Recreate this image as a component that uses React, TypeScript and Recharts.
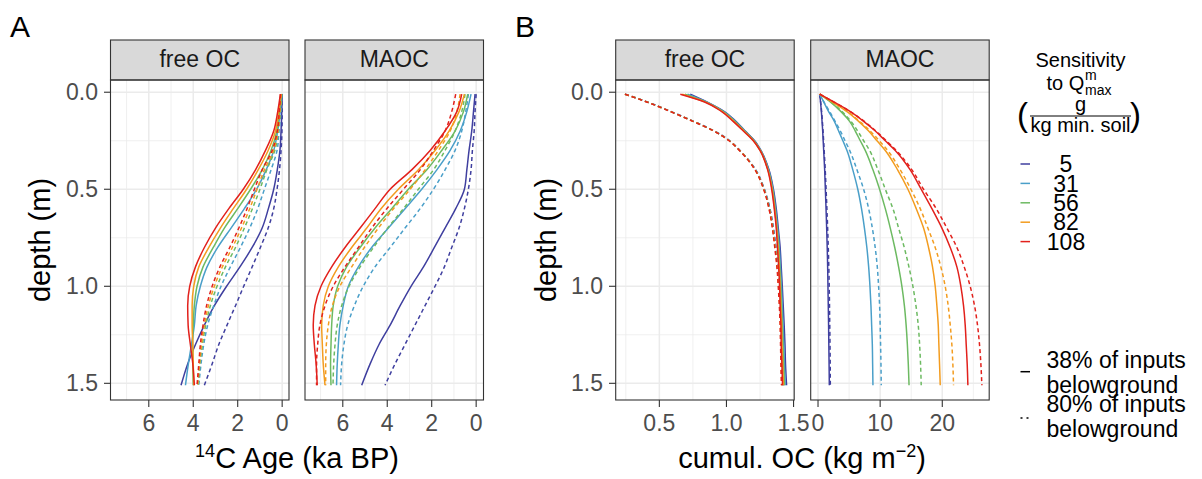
import { LineChart, Line, XAxis, YAxis, CartesianGrid } from 'recharts';

const FONT = '"Liberation Sans", Arial, Helvetica, sans-serif';

// legend groups (Qmax sensitivity, g / kg min. soil)
const sensitivity = ['5', '31', '56', '82', '108'];
const colors = ['#3F3F9F', '#4A9FC9', '#6DBA62', '#F39C1F', '#E2211C'];

const depthTicks = [0, 0.5, 1, 1.5];
const depthMinor = [0.25, 0.75, 1.25];
const depthDomain = [-0.063, 1.586];

// ---- A: 14C age (ka BP) ----
const depthA = [0.01, 0.1, 0.2, 0.3, 0.4, 0.5, 0.6, 0.7, 0.8, 0.9, 1.0, 1.1, 1.2, 1.3, 1.4, 1.51];

const ageFreeSolid = [
  [0, 0.02, 0.05, 0.1, 0.22, 0.38, 0.62, 0.9, 1.35, 1.9, 2.5, 3.05, 3.5, 3.9, 4.25, 4.55],
  [0.02, 0.09, 0.2, 0.38, 0.72, 1.15, 1.7, 2.3, 2.9, 3.38, 3.68, 3.87, 3.95, 4.08, 4.22, 4.35],
  [0.03, 0.12, 0.24, 0.5, 0.9, 1.42, 2.0, 2.6, 3.1, 3.56, 3.83, 3.95, 4.0, 4.03, 4.02, 4.0],
  [0.05, 0.15, 0.3, 0.63, 1.08, 1.6, 2.2, 2.78, 3.3, 3.75, 3.98, 4.05, 4.05, 4.02, 4.0, 3.98],
  [0.08, 0.2, 0.38, 0.75, 1.2, 1.75, 2.4, 3.0, 3.5, 3.9, 4.16, 4.25, 4.23, 4.13, 4.02, 3.95],
];
const ageFreeDashed = [
  [0, 0, 0.01, 0.05, 0.12, 0.23, 0.38, 0.63, 0.98, 1.35, 1.73, 2.1, 2.48, 2.85, 3.15, 3.5],
  [0.01, 0.05, 0.14, 0.23, 0.5, 0.8, 1.1, 1.46, 1.88, 2.33, 2.75, 3.08, 3.35, 3.53, 3.65, 3.75],
  [0.02, 0.08, 0.17, 0.33, 0.69, 1.0, 1.34, 1.7, 2.1, 2.55, 2.93, 3.23, 3.44, 3.59, 3.7, 3.78],
  [0.04, 0.1, 0.19, 0.39, 0.8, 1.13, 1.46, 1.83, 2.24, 2.69, 3.05, 3.32, 3.5, 3.63, 3.72, 3.8],
  [0.07, 0.13, 0.22, 0.45, 0.9, 1.25, 1.58, 1.95, 2.36, 2.8, 3.15, 3.4, 3.56, 3.68, 3.75, 3.83],
];
const ageMaocSolid = [
  [0.05, 0.12, 0.2, 0.32, 0.42, 0.53, 0.92, 1.4, 1.88, 2.37, 2.93, 3.42, 3.87, 4.37, 4.77, 5.15],
  [0.23, 0.42, 0.72, 1.17, 1.77, 2.45, 3.2, 3.95, 4.7, 5.3, 5.75, 5.98, 6.13, 6.2, 6.25, 6.28],
  [0.38, 0.57, 0.95, 1.55, 2.22, 3.05, 3.8, 4.55, 5.22, 5.83, 6.23, 6.43, 6.5, 6.53, 6.55, 6.53],
  [0.53, 0.77, 1.22, 1.85, 2.6, 3.5, 4.28, 4.92, 5.6, 6.2, 6.65, 6.88, 6.95, 6.92, 6.88, 6.8],
  [0.65, 0.87, 1.4, 2.07, 2.9, 3.87, 4.55, 5.22, 5.9, 6.5, 6.98, 7.25, 7.33, 7.28, 7.2, 7.15],
];
const ageMaocDashed = [
  [0, 0.05, 0.09, 0.17, 0.23, 0.35, 0.53, 0.77, 1.1, 1.43, 1.85, 2.3, 2.75, 3.2, 3.65, 4.1],
  [0.35, 0.47, 0.65, 0.95, 1.4, 1.92, 2.52, 3.2, 3.87, 4.55, 5.08, 5.48, 5.78, 5.95, 6.05, 6.1],
  [0.5, 0.65, 0.95, 1.4, 1.92, 2.6, 3.27, 3.98, 4.62, 5.22, 5.72, 6.05, 6.25, 6.35, 6.41, 6.44],
  [0.72, 0.87, 1.17, 1.7, 2.3, 2.97, 3.72, 4.4, 5.03, 5.6, 6.13, 6.47, 6.65, 6.74, 6.77, 6.77],
  [0.92, 1.1, 1.4, 1.92, 2.52, 3.27, 4.02, 4.7, 5.3, 5.9, 6.43, 6.8, 7.03, 7.13, 7.18, 7.18],
];

// ---- B: cumulative OC (kg m-2) ----
const depthB = [0.01, 0.05, 0.1, 0.15, 0.2, 0.25, 0.3, 0.4, 0.5, 0.6, 0.7, 0.8, 0.9, 1.0, 1.1, 1.2, 1.3, 1.4, 1.51];

const ocFreeSolid = [
  [0.73, 0.854, 0.985, 1.07, 1.14, 1.21, 1.257, 1.317, 1.35, 1.371, 1.386, 1.4, 1.408, 1.416, 1.423, 1.43, 1.436, 1.44, 1.448],
  [0.71, 0.85, 0.98, 1.065, 1.137, 1.207, 1.255, 1.314, 1.346, 1.366, 1.381, 1.394, 1.402, 1.41, 1.416, 1.422, 1.427, 1.432, 1.438],
  [0.69, 0.845, 0.975, 1.06, 1.134, 1.205, 1.253, 1.311, 1.343, 1.362, 1.377, 1.389, 1.397, 1.405, 1.41, 1.416, 1.42, 1.425, 1.432],
  [0.67, 0.84, 0.97, 1.055, 1.13, 1.202, 1.251, 1.309, 1.34, 1.359, 1.374, 1.385, 1.393, 1.4, 1.405, 1.411, 1.414, 1.419, 1.425],
  [0.656, 0.837, 0.965, 1.05, 1.126, 1.2, 1.25, 1.307, 1.337, 1.356, 1.371, 1.38, 1.389, 1.396, 1.4, 1.406, 1.408, 1.413, 1.418],
];
const ocFreeDashed = [
  [0.245, 0.41, 0.588, 0.755, 0.91, 1.024, 1.101, 1.218, 1.283, 1.324, 1.35, 1.369, 1.386, 1.397, 1.406, 1.413, 1.417, 1.421, 1.426],
  [0.244, 0.409, 0.587, 0.754, 0.909, 1.023, 1.1, 1.217, 1.281, 1.322, 1.348, 1.366, 1.383, 1.394, 1.402, 1.409, 1.412, 1.416, 1.42],
  [0.244, 0.408, 0.586, 0.752, 0.908, 1.022, 1.099, 1.215, 1.28, 1.32, 1.346, 1.364, 1.38, 1.391, 1.399, 1.405, 1.408, 1.411, 1.415],
  [0.243, 0.407, 0.585, 0.751, 0.907, 1.021, 1.098, 1.214, 1.278, 1.318, 1.344, 1.362, 1.378, 1.388, 1.396, 1.402, 1.405, 1.408, 1.412],
  [0.243, 0.406, 0.584, 0.75, 0.906, 1.02, 1.097, 1.213, 1.277, 1.317, 1.342, 1.36, 1.376, 1.386, 1.394, 1.4, 1.403, 1.406, 1.41],
];
const ocMaocSolid = [
  [0.27, 0.4, 0.54, 0.65, 0.75, 0.83, 0.91, 1.07, 1.18, 1.29, 1.39, 1.48, 1.55, 1.6, 1.65, 1.7, 1.74, 1.78, 1.82],
  [0.27, 0.91, 1.71, 2.63, 3.32, 4.0, 4.66, 5.6, 6.4, 7.0, 7.47, 7.86, 8.15, 8.36, 8.52, 8.63, 8.74, 8.79, 8.84],
  [0.27, 1.98, 3.7, 5.09, 6.0, 6.8, 7.6, 8.84, 9.91, 10.83, 11.63, 12.35, 12.97, 13.5, 13.9, 14.18, 14.38, 14.53, 14.65],
  [0.27, 2.25, 4.66, 6.54, 8.15, 9.49, 10.83, 12.81, 14.47, 15.81, 16.99, 17.79, 18.43, 18.86, 19.13, 19.35, 19.45, 19.56, 19.67],
  [0.27, 2.52, 5.2, 7.34, 9.22, 10.83, 12.43, 14.84, 16.61, 18.33, 19.94, 21.28, 22.35, 22.99, 23.42, 23.69, 23.85, 24.01, 24.12],
];
const ocMaocDashed = [
  [0.27, 0.42, 0.58, 0.7, 0.81, 0.9, 0.99, 1.16, 1.3, 1.43, 1.55, 1.65, 1.74, 1.8, 1.85, 1.89, 1.93, 1.96, 1.98],
  [0.27, 0.95, 1.88, 2.75, 3.6, 4.35, 5.1, 6.27, 7.34, 8.15, 8.74, 9.2, 9.54, 9.75, 9.91, 10.0, 10.07, 10.13, 10.18],
  [0.27, 2.09, 3.86, 5.3, 6.38, 7.34, 8.3, 9.65, 10.83, 12.06, 12.97, 13.88, 14.63, 15.27, 15.76, 16.13, 16.35, 16.5, 16.61],
  [0.27, 2.36, 4.77, 6.7, 8.4, 9.86, 11.2, 13.24, 14.95, 16.45, 17.68, 18.86, 19.77, 20.47, 20.95, 21.28, 21.54, 21.7, 21.81],
  [0.27, 2.52, 5.2, 7.45, 9.32, 10.99, 12.59, 15.11, 16.99, 19.03, 20.74, 22.35, 23.53, 24.49, 25.19, 25.67, 25.99, 26.21, 26.37],
];

const ageTicks = [0, 2, 4, 6];
const ageMinor = [1, 3, 5, 7];
const freeOcTicks = [0.5, 1.0, 1.5];
const freeOcMinor = [0.25, 0.75, 1.25];
const maocOcTicks = [0, 10, 20];
const maocOcMinor = [5, 15, 25];

function buildRows(depth: number[], solid: number[][], dashed: number[][]) {
  return depth.map((d, i) => {
    const row: Record<string, number> = { depth: d };
    sensitivity.forEach((s, k) => {
      row['s' + s] = solid[k][i];
      row['d' + s] = dashed[k][i];
    });
    return row;
  });
}

const PANEL_TOP = 80;
const PANEL_H = 320;
const PANEL_W = 178.5;
const X_AXIS_H = 60;
const RIGHT_PAD = 24; // room for tick labels that spill past the panel edge

interface PanelProps {
  left: number;
  data: Record<string, number>[];
  domain: number[];
  ticks: number[];
  minor: number[];
  reversed?: boolean;
  showY?: boolean;
  fmt: (v: number) => string;
}

function Panel({ left, data, domain, ticks, minor, reversed, showY, fmt }: PanelProps) {
  const yw = showY ? 70 : 0;
  const w = PANEL_W + yw + RIGHT_PAD;
  const h = PANEL_H + X_AXIS_H;
  const tickStyle = { fill: '#4d4d4d', fontSize: 23, fontFamily: FONT };
  return (
    <div style={{ position: 'absolute', left: left - yw, top: PANEL_TOP, width: w, height: h }}>
      <LineChart layout="vertical" width={w} height={h} data={data} margin={{ top: 0, right: RIGHT_PAD, bottom: 0, left: 0 }}>
        <CartesianGrid horizontalValues={depthMinor} verticalValues={minor} stroke="#ebebeb" strokeWidth={0.75} />
        <CartesianGrid horizontalValues={depthTicks} verticalValues={ticks} stroke="#ebebeb" strokeWidth={1.5} />
        <XAxis
          type="number"
          domain={domain}
          ticks={ticks}
          reversed={reversed}
          allowDataOverflow
          interval={0}
          height={X_AXIS_H}
          tickSize={7}
          tickMargin={8}
          axisLine={false}
          tickLine={{ stroke: '#333333', strokeWidth: 1.1 }}
          tick={tickStyle}
          tickFormatter={fmt}
        />
        <YAxis
          type="number"
          dataKey="depth"
          domain={depthDomain}
          ticks={depthTicks}
          allowDataOverflow
          interval={0}
          hide={!showY}
          width={yw}
          tickSize={7}
          tickMargin={6}
          axisLine={false}
          tickLine={{ stroke: '#333333', strokeWidth: 1.1 }}
          tick={tickStyle}
          tickFormatter={(v: number) => v.toFixed(1)}
        />
        {sensitivity.flatMap((s, k) => [
          <Line
            key={'s' + s}
            dataKey={'s' + s}
            type="monotone"
            stroke={colors[k]}
            strokeWidth={1.5}
            dot={false}
            activeDot={false}
            isAnimationActive={false}
          />,
          <Line
            key={'d' + s}
            dataKey={'d' + s}
            type="monotone"
            stroke={colors[k]}
            strokeWidth={1.5}
            strokeDasharray="4 3"
            dot={false}
            activeDot={false}
            isAnimationActive={false}
          />,
        ])}
      </LineChart>
    </div>
  );
}

const panels = [
  { left: 110.5, strip: 'free OC' },
  { left: 305, strip: 'MAOC' },
  { left: 615.7, strip: 'free OC' },
  { left: 810.7, strip: 'MAOC' },
];

const legendY = [164, 183.4, 202.8, 222.2, 241.6];

export default function App() {
  const intFmt = (v: number) => String(v);
  return (
    <div style={{ position: 'absolute', left: 0, top: 0, width: 1202, height: 479, background: '#ffffff', fontFamily: FONT }}>
      <Panel left={panels[0].left} data={buildRows(depthA, ageFreeSolid, ageFreeDashed)} domain={[-0.33, 7.7]} ticks={ageTicks} minor={ageMinor} reversed showY fmt={intFmt} />
      <Panel left={panels[1].left} data={buildRows(depthA, ageMaocSolid, ageMaocDashed)} domain={[-0.33, 7.7]} ticks={ageTicks} minor={ageMinor} reversed fmt={intFmt} />
      <Panel left={panels[2].left} data={buildRows(depthB, ocFreeSolid, ocFreeDashed)} domain={[0.177, 1.507]} ticks={freeOcTicks} minor={freeOcMinor} showY fmt={(v) => v.toFixed(1)} />
      <Panel left={panels[3].left} data={buildRows(depthB, ocMaocSolid, ocMaocDashed)} domain={[-1.13, 27.6]} ticks={maocOcTicks} minor={maocOcMinor} fmt={intFmt} />

      <svg width={1202} height={479} style={{ position: 'absolute', left: 0, top: 0, pointerEvents: 'none' }} fontFamily={FONT}>
        {panels.map((p, i) => (
          <g key={i}>
            <rect x={p.left} y={40} width={PANEL_W} height={40} fill="#d9d9d9" stroke="#333333" strokeWidth={1.1} />
            <text x={p.left + PANEL_W / 2} y={67.3} textAnchor="middle" fontSize={23} fill="#1a1a1a">{p.strip}</text>
            <rect x={p.left} y={PANEL_TOP} width={PANEL_W} height={PANEL_H} fill="none" stroke="#333333" strokeWidth={1.1} />
          </g>
        ))}

        <text x={10} y={37} fontSize={30} fill="#000">A</text>
        <text x={515} y={37} fontSize={30} fill="#000">B</text>

        <text transform="translate(50,240) rotate(-90)" textAnchor="middle" fontSize={29} fill="#000">depth (m)</text>
        <text transform="translate(556,240) rotate(-90)" textAnchor="middle" fontSize={29} fill="#000">depth (m)</text>

        <text x={297} y={468} textAnchor="middle" fontSize={29} fill="#000">
          <tspan fontSize={18} dy={-11}>14</tspan>
          <tspan dy={11}>C Age (ka BP)</tspan>
        </text>
        <text x={802} y={468} textAnchor="middle" fontSize={29} fill="#000">
          <tspan>cumul. OC (kg m</tspan>
          <tspan fontSize={18} dy={-11}>−2</tspan>
          <tspan dy={11}>)</tspan>
        </text>

        {/* colour legend */}
        <text x={1080.5} y={66.7} textAnchor="middle" fontSize={20} fill="#000">Sensitivity</text>
        <text x={1046.5} y={90} fontSize={20} fill="#000">to Q</text>
        <text x={1085} y={80} fontSize={14} fill="#000">m</text>
        <text x={1085} y={95} fontSize={14} fill="#000">max</text>
        <text x={1017} y={126} fontSize={33} fill="#000">(</text>
        <text x={1130} y={126} fontSize={33} fill="#000">)</text>
        <text x={1080.5} y={111} textAnchor="middle" fontSize={20} fill="#000">g</text>
        <line x1={1030} x2={1131} y1={116} y2={116} stroke="#000" strokeWidth={1} />
        <text x={1080.5} y={131.7} textAnchor="middle" fontSize={20} fill="#000">kg min. soil</text>

        {sensitivity.map((s, k) => (
          <g key={s}>
            <line x1={1020.5} x2={1030} y1={legendY[k]} y2={legendY[k]} stroke={colors[k]} strokeWidth={1.5} />
            <text x={1066} y={legendY[k] + 8.2} textAnchor="middle" fontSize={23} fill="#000">{s}</text>
          </g>
        ))}

        {/* linetype legend */}
        <line x1={1020.5} x2={1030} y1={371.7} y2={371.7} stroke="#000" strokeWidth={1.5} />
        <text x={1046.5} y={368} fontSize={23} fill="#000">38% of inputs</text>
        <text x={1046.5} y={392.7} fontSize={23} fill="#000">belowground</text>
        <line x1={1020.5} x2={1030} y1={418} y2={418} stroke="#000" strokeWidth={1.5} strokeDasharray="2 4" />
        <text x={1046.5} y={411.7} fontSize={23} fill="#000">80% of inputs</text>
        <text x={1046.5} y={436.7} fontSize={23} fill="#000">belowground</text>
      </svg>
    </div>
  );
}
